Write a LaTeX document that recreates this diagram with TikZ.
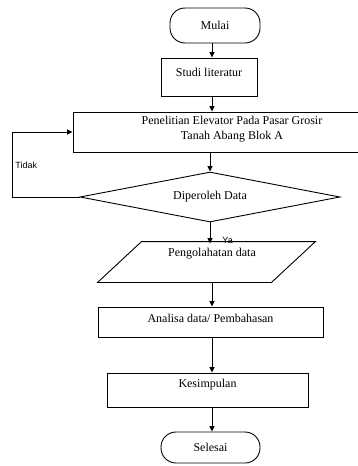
\documentclass[tikz,border=0pt]{standalone}
\usepackage{fontspec}
\setmainfont{Liberation Serif}
\newfontfamily\labfont{Liberation Sans}
\usetikzlibrary{shapes.geometric,arrows.meta}
\begin{document}
\begin{tikzpicture}[x=1pt,y=-1pt,
  line width=0.9pt,
  font=\fontsize{12}{14}\selectfont,
  every label/.style={font=\fontsize{12}{14}\selectfont},
  term/.style={draw,rounded corners=15pt,inner sep=0pt},
  procbox/.style={draw,inner sep=0pt},
  arr/.style={-{Triangle[length=5.5pt,width=5pt]}},
  lab/.style={font=\labfont\fontsize{9}{10}\selectfont,inner sep=0pt}]
\useasboundingbox (0,0) rectangle (358,466);
\clip (0,0) rectangle (358,466);
\coordinate (col) at (212,0);
% nodes
\node[term,minimum width=90pt,minimum height=35pt] (mulai) at (215,25.5) {Mulai};
\node[procbox,minimum width=96pt,minimum height=38pt,
  label={[name=studiT,yshift=5pt]center:Studi literatur}] (studi) at (209,77) {};
\node[procbox,minimum width=318pt,minimum height=40pt,
  label={[name=penT,yshift=2.5pt,align=center,font=\fontsize{12}{15}\selectfont]center:Penelitian Elevator Pada Pasar Grosir\\Tanah Abang Blok A}] (pen) at (232,132) {};
\node[draw,diamond,aspect=5.2,inner sep=0pt,minimum width=260pt,minimum height=50pt] (dip) at (210,197) {Diperoleh Data};
\node[minimum width=173pt,minimum height=40pt,inner sep=0pt,
  label={[name=olahT,yshift=8pt,xshift=5.5pt]center:Pengolahatan data}] (olah) at (206.5,262) {};
\draw ([xshift=22pt]olah.north west) -- ([xshift=22pt]olah.north east)
  -- ([xshift=-22pt]olah.south east) -- ([xshift=-22pt]olah.south west) -- cycle;
\node[procbox,minimum width=225pt,minimum height=30pt,
  label={[name=anaT,yshift=4pt]center:Analisa data/ Pembahasan}] (ana) at (210.5,322) {};
\node[procbox,minimum width=201pt,minimum height=34pt,
  label={[name=kesT,yshift=5pt]center:Kesimpulan}] (kes) at (207.5,390) {};
\node[term,minimum width=99pt,minimum height=31pt] (sel) at (210.5,447.5) {Selesai};
% connectors
\draw[arr] (mulai.south -| col) -- (studi.north -| col);
\draw[arr] (studi.south -| col) -- (pen.north -| col);
\draw[arr] (pen.south -| dip.north) -- (dip.north);
\draw[arr] (dip.south) -- ([yshift=-2pt]olah.north -| dip.south);
\draw[arr] (olah.south -| col) -- (ana.north -| col);
\draw[arr] (ana.south -| col) -- (kes.north -| col);
\draw[arr] (kes.south -| col) -- (sel.north -| col);
\coordinate (lp) at (12,197);
\draw[arr] (dip.west) -- (lp) |- (pen.west);
\node[lab,anchor=west] (tidak) at (15,165) {Tidak};
\node[lab,anchor=west] (ya) at (222,240) {Ya};
\end{tikzpicture}
\end{document}
